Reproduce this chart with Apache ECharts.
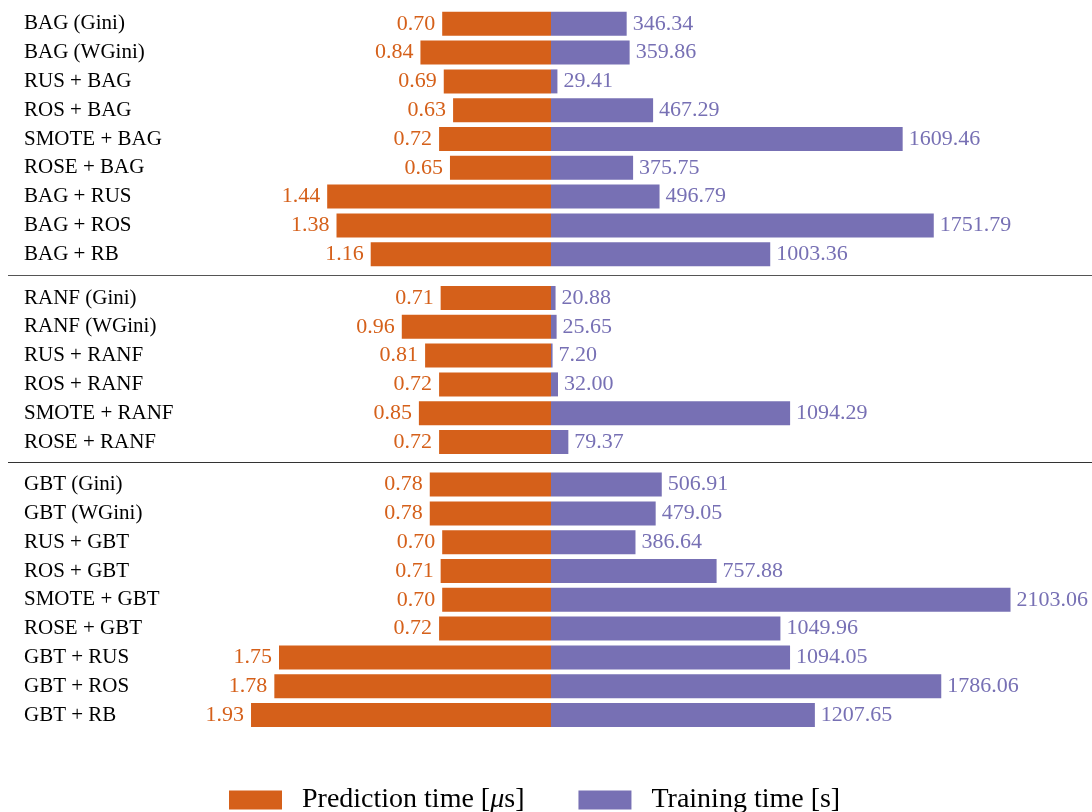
<!DOCTYPE html>
<html>
<head>
<meta charset="utf-8">
<script src="https://cdn.jsdelivr.net/npm/echarts@6/dist/echarts.min.js"></script>
<style>
  html, body { margin: 0; padding: 0; background: #fff; }
  #main { width: 1092px; height: 812px; }
</style>
</head>
<body>
<div id="main"></div>
<script>
var bagNames = ['BAG (Gini)', 'BAG (WGini)', 'RUS + BAG', 'ROS + BAG', 'SMOTE + BAG', 'ROSE + BAG', 'BAG + RUS', 'BAG + ROS', 'BAG + RB'];
var bagPred = [0.70, 0.84, 0.69, 0.63, 0.72, 0.65, 1.44, 1.38, 1.16];
var bagTrain = [346.34, 359.86, 29.41, 467.29, 1609.46, 375.75, 496.79, 1751.79, 1003.36];

var ranfNames = ['RANF (Gini)', 'RANF (WGini)', 'RUS + RANF', 'ROS + RANF', 'SMOTE + RANF', 'ROSE + RANF'];
var ranfPred = [0.71, 0.96, 0.81, 0.72, 0.85, 0.72];
var ranfTrain = [20.88, 25.65, 7.20, 32.00, 1094.29, 79.37];

var gbtNames = ['GBT (Gini)', 'GBT (WGini)', 'RUS + GBT', 'ROS + GBT', 'SMOTE + GBT', 'ROSE + GBT', 'GBT + RUS', 'GBT + ROS', 'GBT + RB'];
var gbtPred = [0.78, 0.78, 0.70, 0.71, 0.70, 0.72, 1.75, 1.78, 1.93];
var gbtTrain = [506.91, 479.05, 386.64, 757.88, 2103.06, 1049.96, 1094.05, 1786.06, 1207.65];

var predName = 'Prediction time [μs]';
var trainName = 'Training time [s]';

var orange = '#d5601a';
var purple = '#7770b4';
var font = 'Liberation Serif';

var groups = [
    { names: bagNames, pred: bagPred, train: bagTrain, top: 9.4 },
    { names: ranfNames, pred: ranfPred, train: ranfTrain, top: 283.6 },
    { names: gbtNames, pred: gbtPred, train: gbtTrain, top: 470.2 }
];
var rowH = 28.8;

var grids = [], xAxes = [], yAxes = [], series = [];

groups.forEach(function (g, i) {
    var h = g.names.length * rowH;
    // left half: prediction time, right half: training time
    grids.push({ left: 7, right: 541, top: g.top, height: h });
    grids.push({ left: 551, right: 16.6, top: g.top, height: h });

    xAxes.push({ type: 'value', gridIndex: 2 * i, inverse: true, min: 0, max: 3.5, show: false });
    xAxes.push({ type: 'value', gridIndex: 2 * i + 1, min: 0, max: 2400, show: false });

    yAxes.push({
        type: 'category', gridIndex: 2 * i, data: g.names, inverse: true,
        axisLine: { show: false, onZero: false }, axisTick: { show: false },
        axisLabel: { inside: true, align: 'left', margin: 17, color: '#000', fontSize: 21, fontFamily: font }
    });
    yAxes.push({
        type: 'category', gridIndex: 2 * i + 1, data: g.names, inverse: true, show: false
    });

    series.push({
        name: predName, type: 'bar', xAxisIndex: 2 * i, yAxisIndex: 2 * i,
        data: g.pred, barWidth: 24, itemStyle: { color: orange },
        label: {
            show: true, position: 'left', distance: 7, color: orange, fontSize: 22, fontFamily: font,
            formatter: function (p) { return p.value.toFixed(2); }
        }
    });
    series.push({
        name: trainName, type: 'bar', xAxisIndex: 2 * i + 1, yAxisIndex: 2 * i + 1,
        data: g.train, barWidth: 24, itemStyle: { color: purple },
        label: {
            show: true, position: 'right', distance: 6, color: purple, fontSize: 22, fontFamily: font,
            formatter: function (p) { return p.value.toFixed(2); }
        }
    });
});

var option = {
    animation: false,
    grid: grids,
    xAxis: xAxes,
    yAxis: yAxes,
    legend: {
        data: [predName, trainName],
        left: 229,
        top: 786,
        padding: 0,
        itemWidth: 53,
        itemHeight: 19,
        itemGap: 54,
        icon: 'rect',
        textStyle: { color: '#000', fontSize: 28, fontFamily: font, padding: [0, 0, 0, 15],
            rich: { i: { fontSize: 28, fontFamily: font, fontStyle: 'italic' } } },
        formatter: function (name) {
            return name === predName ? 'Prediction time [{i|μ}s]' : name;
        }
    },
    graphic: [
        { type: 'line', shape: { x1: 8, y1: 275.5, x2: 1092, y2: 275.5 }, style: { stroke: '#555', lineWidth: 1.2 } },
        { type: 'line', shape: { x1: 8, y1: 462.5, x2: 1092, y2: 462.5 }, style: { stroke: '#333', lineWidth: 1.2 } }
    ],
    series: series
};

var myChart = echarts.init(document.getElementById('main'));
myChart.setOption(option);
</script>
</body>
</html>
